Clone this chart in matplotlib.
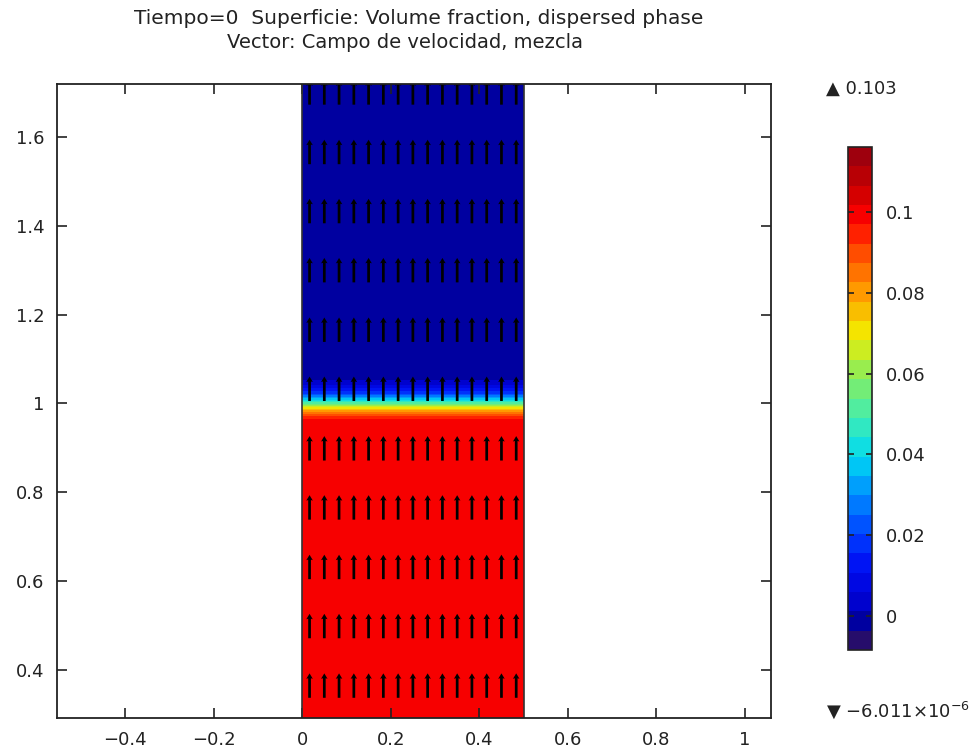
import matplotlib.pyplot as plt
import numpy as np
from matplotlib.colors import BoundaryNorm, LinearSegmentedColormap

# Perfil de la fracción de volumen (fase dispersa) a lo largo de y
perfil_y = [0.29, 0.96, 0.972, 0.982, 0.99, 0.999, 1.008, 1.016, 1.024, 1.038, 1.055, 1.72]
perfil_phi = [0.1, 0.1, 0.092, 0.082, 0.07, 0.055, 0.04, 0.028, 0.018, 0.008, 0.0, 0.0]
canal_x = [0.0, 0.5]

# Posiciones de las flechas (campo de velocidad)
flechas_x = [0.0167, 0.05, 0.0833, 0.1167, 0.15, 0.1833, 0.2167, 0.25,
             0.2833, 0.3167, 0.35, 0.3833, 0.4167, 0.45, 0.4833]
flechas_y = [0.365, 0.499, 0.632, 0.766, 0.899, 1.033, 1.166, 1.30, 1.433, 1.566, 1.70]
vel_u = 0.0
vel_v = 0.055

phi_min = -0.0084
phi_max = 0.1161
ticks_cb = [0, 0.02, 0.04, 0.06, 0.08, 0.1]

# paleta tipo "Rainbow" de COMSOL
colores = [(0.0, (0.15, 0.05, 0.42)), (0.035, (0.0, 0.0, 0.6)), (0.067, (0.0, 0.0, 0.78)),
           (0.15, (0.0, 0.05, 0.95)), (0.22, (0.0, 0.25, 1.0)),
           (0.3, (0.0, 0.55, 1.0)), (0.38, (0.0, 0.85, 0.95)), (0.46, (0.25, 0.93, 0.7)),
           (0.55, (0.55, 0.93, 0.35)), (0.63, (0.95, 0.93, 0.0)), (0.72, (1.0, 0.6, 0.0)),
           (0.80, (1.0, 0.3, 0.0)), (0.87, (1.0, 0.0, 0.0)), (0.93, (0.8, 0.0, 0.0)),
           (1.0, (0.62, 0.0, 0.05))]
cmap = LinearSegmentedColormap.from_list('rainbow_comsol', colores, N=26)

fig = plt.figure(figsize=(9.75, 7.52), dpi=100)
ax = fig.add_axes([0.0585, 0.0452, 0.7323, 0.8431])

X, Y = np.meshgrid(canal_x, perfil_y)
Z = np.tile(np.array(perfil_phi)[:, None], (1, len(canal_x)))
niveles = np.linspace(phi_min, phi_max, 27)
norm = BoundaryNorm(niveles, cmap.N)
cf = ax.contourf(X, Y, Z, levels=niveles, cmap=cmap, norm=norm, antialiased=False)

ax.plot([canal_x[0], canal_x[0]], [perfil_y[0], perfil_y[-1]], color='#333333', lw=1.2)
ax.plot([canal_x[1], canal_x[1]], [perfil_y[0], perfil_y[-1]], color='#333333', lw=1.2)

FX, FY = np.meshgrid(flechas_x, flechas_y)
ax.quiver(FX, FY - vel_v / 2, np.full(FX.shape, vel_u), np.full(FX.shape, vel_v),
          angles='xy', scale_units='xy', scale=1, color='black',
          width=0.0038, headwidth=2.4, headlength=2.0, headaxislength=1.8, pivot='tail')

ax.set_xlim(-0.5535, 1.0587)
ax.set_ylim(0.292, 1.719)
ax.set_xticks([-0.4, -0.2, 0, 0.2, 0.4, 0.6, 0.8, 1])
ax.set_xticklabels(['\u22120.4', '\u22120.2', '0', '0.2', '0.4', '0.6', '0.8', '1'])
ax.set_yticks([0.4, 0.6, 0.8, 1, 1.2, 1.4, 1.6])
ax.set_yticklabels(['0.4', '0.6', '0.8', '1', '1.2', '1.4', '1.6'])
ax.tick_params(direction='in', top=True, right=True, length=7, width=1.2,
               labelsize=13, colors='#222222', pad=9)
for s in ax.spines.values():
    s.set_linewidth(1.3)
    s.set_color('#222222')

fig.text(0.429, 0.976, 'Tiempo=0  Superficie: Volume fraction, dispersed phase',
         ha='center', va='center', fontsize=14.5, color='#222222')
fig.text(0.415, 0.943, 'Vector: Campo de velocidad, mezcla',
         ha='center', va='center', fontsize=14, color='#222222')

cax = fig.add_axes([0.8697, 0.1356, 0.0246, 0.6689])
cb = fig.colorbar(cf, cax=cax, ticks=ticks_cb)
cb.minorticks_off()
cb.ax.set_yticklabels(['0', '0.02', '0.04', '0.06', '0.08', '0.1'])
cb.ax.tick_params(direction='in', length=4, width=1.2, left=True, right=True,
                  labelsize=13, colors='#222222', pad=10)
cb.outline.set_linewidth(1.2)
cb.outline.set_edgecolor('#222222')
cb.ax.set_ylim(phi_min, phi_max)

fig.text(0.847, 0.882, '\u25b2 0.103', ha='left', va='center', fontsize=13, color='#222222')
fig.text(0.847, 0.055, '\u25bc \u22126.011\u00d710$^{\u22126}$', ha='left', va='center',
         fontsize=13, color='#222222')

fig.savefig('out.png', dpi=100)
